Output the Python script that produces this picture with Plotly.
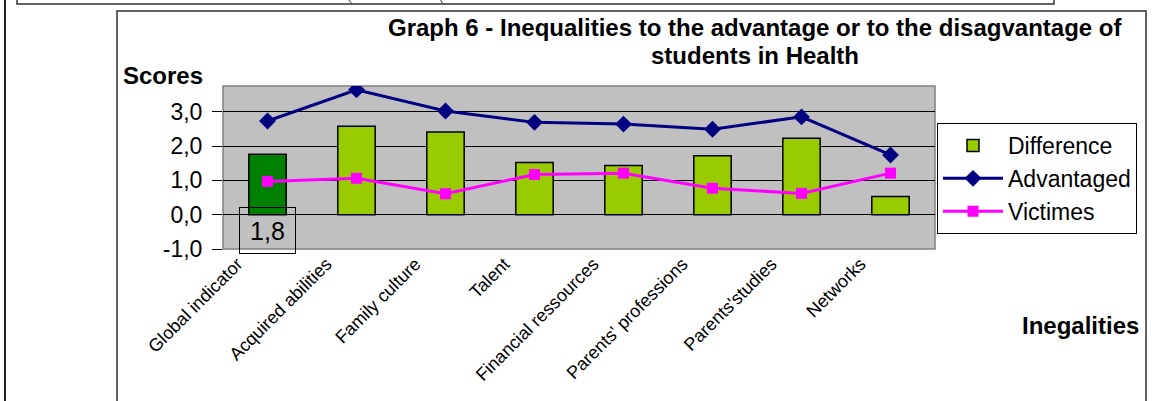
import plotly.graph_objects as go

categories = ["Global indicator", "Acquired abilities", "Family culture", "Talent",
              "Financial ressources", "Parents' professions", "Parents'studies", "Networks"]
advantaged = [2.73, 3.64, 3.02, 2.69, 2.64, 2.49, 2.85, 1.74]
victimes = [0.97, 1.06, 0.61, 1.17, 1.21, 0.77, 0.62, 1.21]
difference = [1.76, 2.58, 2.41, 1.52, 1.43, 1.72, 2.23, 0.53]
y_ticks = [-1, 0, 1, 2, 3]

W, H = 1155, 401
L, R, T, B = 223, 935, 86, 249
YMIN, YMAX = -1, 3.75

def px_x(p):
    return (p - L) / (R - L)

def px_y(p):
    return (B - p) / (B - T)

def fmt(v):
    return f"{v:.1f}".replace(".", ",")

FONT = "Arial, Liberation Sans, sans-serif"

fig = go.Figure()
fig.add_trace(go.Bar(
    x=categories[1:], y=difference[1:], name="Difference",
    marker=dict(color="#99CC00", line=dict(color="black", width=1.5)),
    width=0.42, legendgroup="a"))
fig.add_trace(go.Bar(
    x=categories[:1], y=difference[:1], name="Difference", showlegend=False,
    marker=dict(color="#008000", line=dict(color="black", width=1.5)),
    width=0.42))
fig.add_trace(go.Scatter(
    x=categories, y=advantaged, name="Advantaged", mode="lines+markers",
    line=dict(color="#000080", width=3),
    marker=dict(symbol="diamond", size=13, color="#000080"), legendgroup="b"))
fig.add_trace(go.Scatter(
    x=categories, y=victimes, name="Victimes", mode="lines+markers",
    line=dict(color="#FF00FF", width=3),
    marker=dict(symbol="square", size=11, color="#FF00FF"), legendgroup="c"))

shapes = [
    dict(type="rect", xref="paper", yref="paper", x0=0, x1=1, y0=0, y1=1,
         line=dict(color="#808080", width=1.5), layer="below"),
    dict(type="rect", xref="paper", yref="paper", x0=px_x(117), x1=px_x(1146),
         y0=px_y(420), y1=px_y(11), line=dict(color="#333333", width=1.5)),
    dict(type="line", xref="paper", yref="paper", x0=px_x(5), x1=px_x(5),
         y0=px_y(420), y1=px_y(-5), line=dict(color="#222222", width=2)),
    dict(type="rect", xref="paper", yref="paper", x0=px_x(17), x1=px_x(1054),
         y0=px_y(4), y1=px_y(-10), line=dict(color="#333333", width=1.5)),
    dict(type="line", xref="paper", yref="paper", x0=px_x(348), x1=px_x(352),
         y0=px_y(-1), y1=px_y(4), line=dict(color="#333333", width=1)),
    dict(type="line", xref="paper", yref="paper", x0=px_x(440), x1=px_x(443),
         y0=px_y(-1), y1=px_y(4), line=dict(color="#333333", width=1)),
]

annotations = [
    dict(text="Graph 6 - Inequalities to the advantage or to the disagvantage of",
         xref="paper", yref="paper", x=px_x(755), y=px_y(27), showarrow=False,
         xanchor="center", yanchor="middle",
         font=dict(family=FONT, size=24, color="black", weight="bold")),
    dict(text="students in Health",
         xref="paper", yref="paper", x=px_x(755), y=px_y(55), showarrow=False,
         xanchor="center", yanchor="middle",
         font=dict(family=FONT, size=24, color="black", weight="bold")),
    dict(text="Scores", xref="paper", yref="paper", x=px_x(121), y=px_y(76),
         showarrow=False, xanchor="left", yanchor="middle",
         font=dict(family=FONT, size=24, color="black", weight="bold")),
    dict(text="Inegalities", xref="paper", yref="paper", x=px_x(1141), y=px_y(325),
         showarrow=False, xanchor="right", yanchor="middle",
         font=dict(family=FONT, size=24, color="black", weight="bold")),
    dict(text=fmt(difference[0]), x=categories[0], y=0,
         xref="x", yref="y", showarrow=False, yanchor="middle", yshift=-16,
         width=53, height=43, bordercolor="black", borderwidth=1,
         font=dict(family=FONT, size=25, color="black")),
]

fig.update_layout(
    width=W, height=H,
    margin=dict(l=L, r=W - R, t=T, b=H - B, pad=0),
    paper_bgcolor="white", plot_bgcolor="#C0C0C0",
    barmode="overlay",
    font=dict(family=FONT, color="black"),
    showlegend=True,
    legend=dict(x=px_x(937), y=px_y(123), xanchor="left", yanchor="top",
                bordercolor="black", borderwidth=1, bgcolor="white",
                font=dict(family=FONT, size=23, color="black"),
                itemwidth=60, tracegroupgap=0, traceorder="grouped"),
    xaxis=dict(type="category", categoryorder="array", categoryarray=categories,
               tickangle=-45, tickfont=dict(family=FONT, size=18, color="black"),
               ticks="", showgrid=False, zeroline=False, showline=False,
               ticklabelshift=-30),
    xaxis2=dict(overlaying="x", anchor="free", position=(0 - YMIN) / (YMAX - YMIN),
                range=[-0.5, len(categories) - 0.5],
                tickvals=[i + 0.5 for i in range(-1, len(categories))],
                ticks="outside", ticklen=6, tickcolor="black", tickwidth=1,
                showticklabels=False, showgrid=False, zeroline=False, showline=False),
    yaxis=dict(range=[YMIN, YMAX], tickvals=y_ticks, ticktext=[fmt(v) for v in y_ticks],
               tickfont=dict(family=FONT, size=23, color="black"),
               ticks="outside", ticklen=10, tickcolor="black", ticklabelstandoff=5,
               showgrid=True, gridcolor="black", gridwidth=1,
               zeroline=True, zerolinecolor="black", zerolinewidth=1,
               showline=False),
    shapes=shapes, annotations=annotations,
)

fig.write_html("out.html", config={"displayModeBar": False},
               post_script="document.body.style.margin='0px';document.body.style.overflow='hidden';")
